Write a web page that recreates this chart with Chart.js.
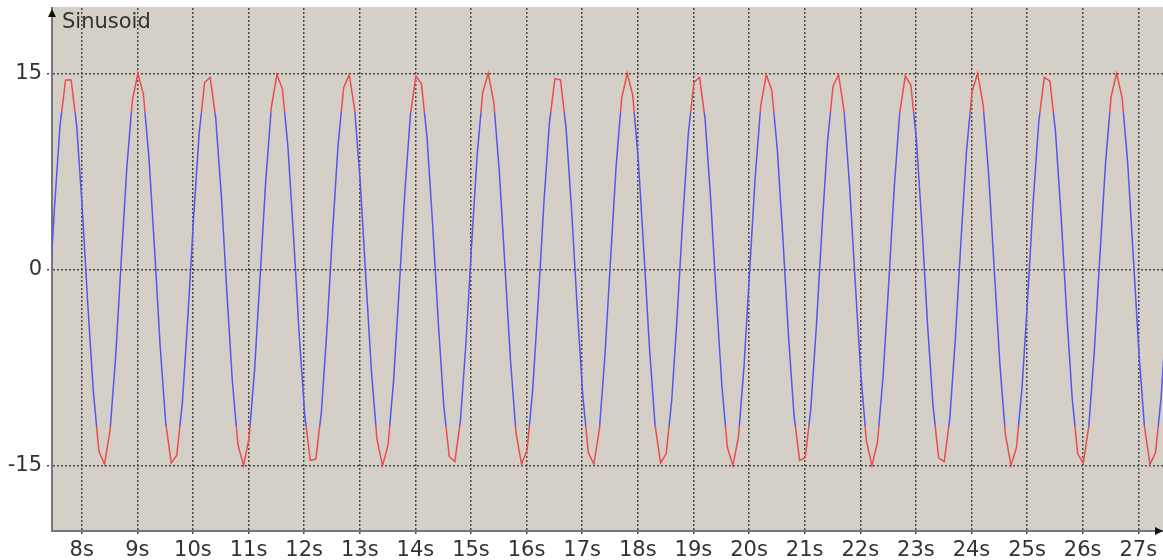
<!DOCTYPE html>
<html>
<head>
<meta charset="utf-8">
<script src="https://cdn.jsdelivr.net/npm/chart.js@4.4.0/dist/chart.umd.min.js"></script>
<style>
  html, body { margin: 0; padding: 0; background: #fff; }
  #wrap { width: 1163px; height: 560px; }
</style>
</head>
<body>
<div id="wrap"><canvas id="chart"></canvas></div>
<script>
// sample times (s)
const times = [
  7.41, 7.51, 7.61, 7.71, 7.81, 7.91, 8.01, 8.11, 8.21, 8.31,
  8.41, 8.51, 8.61, 8.71, 8.81, 8.91, 9.01, 9.11, 9.21, 9.31,
  9.41, 9.51, 9.61, 9.71, 9.81, 9.91, 10.01, 10.11, 10.21, 10.31,
  10.41, 10.51, 10.61, 10.71, 10.81, 10.91, 11.01, 11.11, 11.21, 11.31,
  11.41, 11.51, 11.61, 11.71, 11.81, 11.91, 12.01, 12.11, 12.21, 12.31,
  12.41, 12.51, 12.61, 12.71, 12.81, 12.91, 13.01, 13.11, 13.21, 13.31,
  13.41, 13.51, 13.61, 13.71, 13.81, 13.91, 14.01, 14.11, 14.21, 14.31,
  14.41, 14.51, 14.61, 14.71, 14.81, 14.91, 15.01, 15.11, 15.21, 15.31,
  15.41, 15.51, 15.61, 15.71, 15.81, 15.91, 16.01, 16.11, 16.21, 16.31,
  16.41, 16.51, 16.61, 16.71, 16.81, 16.91, 17.01, 17.11, 17.21, 17.31,
  17.41, 17.51, 17.61, 17.71, 17.81, 17.91, 18.01, 18.11, 18.21, 18.31,
  18.41, 18.51, 18.61, 18.71, 18.81, 18.91, 19.01, 19.11, 19.21, 19.31,
  19.41, 19.51, 19.61, 19.71, 19.81, 19.91, 20.01, 20.11, 20.21, 20.31,
  20.41, 20.51, 20.61, 20.71, 20.81, 20.91, 21.01, 21.11, 21.21, 21.31,
  21.41, 21.51, 21.61, 21.71, 21.81, 21.91, 22.01, 22.11, 22.21, 22.31,
  22.41, 22.51, 22.61, 22.71, 22.81, 22.91, 23.01, 23.11, 23.21, 23.31,
  23.41, 23.51, 23.61, 23.71, 23.81, 23.91, 24.01, 24.11, 24.21, 24.31,
  24.41, 24.51, 24.61, 24.71, 24.81, 24.91, 25.01, 25.11, 25.21, 25.31,
  25.41, 25.51, 25.61, 25.71, 25.81, 25.91, 26.01, 26.11, 26.21, 26.31,
  26.41, 26.51, 26.61, 26.71, 26.81, 26.91, 27.01, 27.11, 27.21, 27.31,
  27.41, 27.51
]
const sinusoid = [
  -2.7, 4.7, 11.0, 14.5, 14.5, 11.0, 4.7, -2.7, -9.4, -13.9,
  -14.9, -12.3, -6.7, 0.6, 7.7, 12.9, 15.0, 13.4, 8.5, 1.6,
  -5.8, -11.7, -14.8, -14.2, -10.2, -3.6, 3.8, 10.3, 14.3, 14.7,
  11.6, 5.7, -1.7, -8.6, -13.4, -15.0, -12.9, -7.6, -0.4, 6.8,
  12.4, 14.9, 13.8, 9.3, 2.5, -4.9, -11.1, -14.6, -14.5, -10.9,
  -4.6, 2.8, 9.5, 13.9, 14.9, 12.2, 6.6, -0.7, -7.8, -13.0,
  -15.0, -13.4, -8.4, -1.4, 5.9, 11.8, 14.8, 14.2, 10.1, 3.5,
  -3.9, -10.4, -14.3, -14.7, -11.6, -5.6, 1.8, 8.7, 13.5, 15.0,
  12.8, 7.5, 0.3, -6.9, -12.5, -14.9, -13.8, -9.2, -2.4, 5.0,
  11.2, 14.6, 14.5, 10.8, 4.5, -2.9, -9.6, -14.0, -14.9, -12.2,
  -6.5, 0.8, 7.9, 13.1, 15.0, 13.3, 8.3, 1.3, -6.0, -11.9,
  -14.8, -14.1, -10.0, -3.4, 4.0, 10.5, 14.3, 14.7, 11.5, 5.4,
  -2.0, -8.8, -13.6, -15.0, -12.8, -7.4, -0.2, 7.0, 12.5, 14.9,
  13.7, 9.1, 2.3, -5.1, -11.2, -14.6, -14.4, -10.7, -4.4, 3.0,
  9.7, 14.0, 14.9, 12.1, 6.3, -1.0, -8.0, -13.1, -15.0, -13.2,
  -8.2, -1.2, 6.2, 12.0, 14.8, 14.1, 9.9, 3.3, -4.2, -10.5,
  -14.4, -14.7, -11.4, -5.3, 2.1, 9.0, 13.6, 15.0, 12.6, 7.2,
  0.0, -7.2, -12.6, -15.0, -13.6, -9.0, -2.2, 5.2, 11.3, 14.7,
  14.4, 10.6, 4.2, -3.2, -9.8, -14.1, -14.8, -12.0, -6.2, 1.1,
  8.1, 13.2, 15.0, 13.1, 8.1, 1.0, -6.3, -12.0, -14.9, -14.0,
  -9.8, -3.2
]
const xTicks = [8, 9, 10, 11, 12, 13, 14, 15, 16, 17, 18, 19, 20, 21, 22, 23, 24, 25, 26, 27]
const yTicks = [-15, 0, 15]
const alarmLevel = 12
const seriesName = 'Sinusoid'

const blue = 'rgb(85, 85, 240)'
const red = 'rgb(238, 75, 75)'
const gridColor = '#4a4a4a'
const axisColor = '#777'
const textColor = '#333'
const font = { family: 'DejaVu Sans', size: 21 }

// red above +alarm, blue in between, red below -alarm
function lineColor(c) {
    const chart = c.chart
    const area = chart.chartArea
    if (!area) return blue
    const y = chart.scales.y
    const h = area.bottom - area.top
    const f1 = (y.getPixelForValue(alarmLevel) - area.top) / h
    const f2 = (y.getPixelForValue(-alarmLevel) - area.top) / h
    const g = chart.ctx.createLinearGradient(0, area.top, 0, area.bottom)
    g.addColorStop(0, red)
    g.addColorStop(f1, red)
    g.addColorStop(f1, blue)
    g.addColorStop(f2, blue)
    g.addColorStop(f2, red)
    g.addColorStop(1, red)
    return g
}

const plotBg = {
    id: 'plotBg',
    beforeDraw(chart) {
        const { ctx, chartArea: a } = chart
        ctx.save()
        ctx.fillStyle = '#d4d0c8'
        ctx.fillRect(a.left, a.top - 1, a.right - a.left, a.bottom - a.top + 1)
        ctx.restore()
    }
}

const decorations = {
    id: 'decorations',
    afterDraw(chart) {
        const { ctx, chartArea: a } = chart
        ctx.save()
        // axis arrows
        ctx.fillStyle = '#111'
        ctx.beginPath()
        ctx.moveTo(a.left, 9)
        ctx.lineTo(a.left - 4, 17)
        ctx.lineTo(a.left + 4, 17)
        ctx.closePath()
        ctx.fill()
        ctx.beginPath()
        ctx.moveTo(a.right, a.bottom)
        ctx.lineTo(a.right - 8, a.bottom - 4)
        ctx.lineTo(a.right - 8, a.bottom + 4)
        ctx.closePath()
        ctx.fill()
        // series name
        ctx.fillStyle = textColor
        ctx.font = font.size + 'px ' + font.family
        ctx.textBaseline = 'alphabetic'
        ctx.textAlign = 'left'
        ctx.fillText(seriesName, a.left + 10, 28)
        ctx.restore()
    }
}

let points = times.map((t, i) => ({ x: t, y: sinusoid[i] }))

let config = {
    type: 'line',
    data: {
        datasets: [{
            label: seriesName,
            data: points,
            borderColor: lineColor,
            borderWidth: 1.5,
            pointRadius: 0,
            tension: 0
        }]
    },
    options: {
        responsive: true,
        maintainAspectRatio: false,
        animation: false,
        layout: { padding: { top: 8, left: 0, right: 0, bottom: 0 } },
        plugins: {
            legend: { display: false },
            tooltip: { enabled: false }
        },
        scales: {
            x: {
                type: 'linear',
                min: 7.466,
                max: 27.444,
                afterBuildTicks: s => { s.ticks = xTicks.map(v => ({ value: v })) },
                afterFit: s => { s.height = 29; s.paddingLeft = 0; s.paddingRight = 0 },
                ticks: {
                    callback: v => v + 's',
                    color: textColor,
                    font: font,
                    padding: 2,
                    maxRotation: 0,
                    autoSkip: false
                },
                grid: {
                    color: gridColor,
                    lineWidth: 1.5,
                    tickLength: 5,
                    tickColor: gridColor,
                    tickBorderDash: [2, 2]
                },
                border: { color: axisColor, width: 2, dash: [2, 2] }
            },
            y: {
                min: -20,
                max: 20,
                afterBuildTicks: s => { s.ticks = yTicks.map(v => ({ value: v })) },
                afterFit: s => { s.width = 52; s.paddingTop = 0; s.paddingBottom = 0 },
                ticks: {
                    color: textColor,
                    font: font,
                    padding: 5
                },
                grid: {
                    color: gridColor,
                    lineWidth: 1.5,
                    tickLength: 5,
                    tickColor: gridColor,
                    tickBorderDash: [2, 2]
                },
                border: { color: axisColor, width: 2, dash: [2, 2] }
            }
        }
    },
    plugins: [plotBg, decorations]
}

new Chart(document.getElementById('chart'), config)
</script>
</body>
</html>
